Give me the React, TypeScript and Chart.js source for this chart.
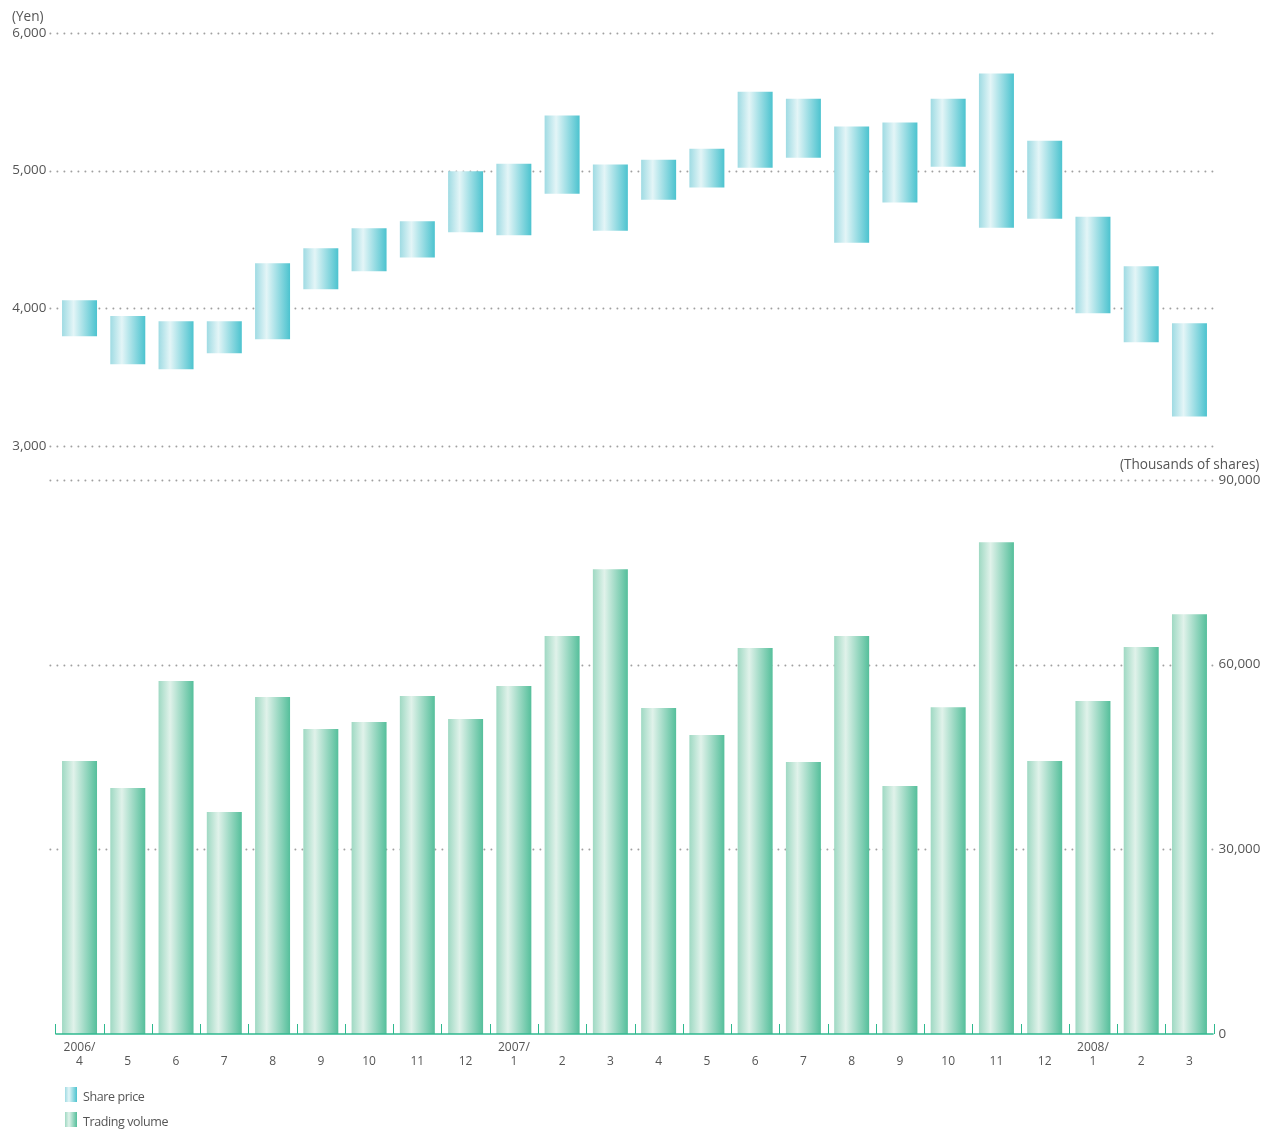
import React, { useEffect, useRef } from "react";
import { Chart, registerables } from "chart.js";

Chart.register(...registerables);

const months = ["4", "5", "6", "7", "8", "9", "10", "11", "12", "1", "2", "3", "4", "5", "6", "7", "8", "9", "10", "11", "12", "1", "2", "3"];
const years = ["2006/", "", "", "", "", "", "", "", "", "2007/", "", "", "", "", "", "", "", "", "", "", "", "2008/", "", ""];

const priceHigh = [4058, 3945, 3906, 3906, 4327, 4436, 4581, 4632, 4995, 5051, 5400, 5044, 5080, 5160, 5574, 5523, 5320, 5349, 5523, 5705, 5218, 4666, 4305, 3891];
const priceLow = [3797, 3593, 3557, 3673, 3775, 4138, 4269, 4370, 4552, 4530, 4833, 4564, 4789, 4877, 5022, 5094, 4477, 4768, 5029, 4586, 4651, 3964, 3753, 3215];
const volume = [44340, 39950, 57330, 36050, 54730, 49530, 50670, 54890, 51160, 56520, 64640, 75520, 52940, 48560, 62690, 44170, 64640, 40280, 53100, 79900, 44340, 54080, 62850, 68210];

const priceTicks = [3000, 4000, 5000, 6000];
const volumeTicks = [0, 30000, 60000, 90000];

const labels = months.map((m, i) => [years[i], m]);

const FONT = "'Open Sans', 'DejaVu Sans', sans-serif";
const TEXT = "#555555";
const BAR_PCT = 0.725;

const PRICE_STOPS: [number, string][] = [[0, "#9fdbe3"], [0.33, "#e3f5f7"], [1, "#4cc3cf"]];
const VOL_STOPS: [number, string][] = [[0, "#9fd9c3"], [0.33, "#e0f2ea"], [1, "#55bf9b"]];

function barGradient(stops: [number, string][]) {
  return (ctx: any) => {
    const chart = ctx.chart;
    const xs = chart.scales && chart.scales.x;
    if (!chart.chartArea || !xs) return stops[1][1];
    const c = xs.getPixelForValue(ctx.dataIndex);
    const w = (xs.width / labels.length) * BAR_PCT;
    const g = chart.ctx.createLinearGradient(c - w / 2, 0, c + w / 2, 0);
    stops.forEach(([o, col]) => g.addColorStop(o, col));
    return g;
  };
}

const dottedGrid = (axisId: string, values: number[]) => ({
  id: "dottedGrid",
  beforeDatasetsDraw(chart: any) {
    const ctx = chart.ctx;
    const s = chart.scales[axisId];
    const x0 = chart.chartArea.left - 5;
    const x1 = chart.chartArea.right + 2;
    ctx.save();
    ctx.strokeStyle = "#a0a0a0";
    ctx.lineWidth = 2;
    ctx.lineCap = "round";
    ctx.setLineDash([0, 7]);
    values.forEach((v) => {
      const y = Math.round(s.getPixelForValue(v)) + 0.5;
      ctx.beginPath();
      ctx.moveTo(x0, y);
      ctx.lineTo(x1, y);
      ctx.stroke();
    });
    ctx.restore();
  },
});

const xAxisLine = {
  id: "xAxisLine",
  afterDatasetsDraw(chart: any) {
    const ctx = chart.ctx;
    const xs = chart.scales.x;
    const ys = chart.scales.y;
    const y = ys.getPixelForValue(0);
    const step = xs.width / labels.length;
    ctx.save();
    ctx.strokeStyle = "#2fb98f";
    ctx.lineWidth = 1.5;
    ctx.beginPath();
    ctx.moveTo(xs.left, y);
    ctx.lineTo(xs.right, y);
    ctx.stroke();
    ctx.lineWidth = 1;
    for (let i = 0; i <= labels.length; i++) {
      const x = Math.round(xs.getPixelForValue(0) - step / 2 + i * step) + 0.5;
      ctx.beginPath();
      ctx.moveTo(x, y);
      ctx.lineTo(x, y - 10);
      ctx.stroke();
    }
    ctx.restore();
  },
};

export default function App() {
  const topRef = useRef<HTMLCanvasElement>(null);
  const botRef = useRef<HTMLCanvasElement>(null);

  useEffect(() => {
    Chart.defaults.font.family = FONT;
    const top = new Chart(topRef.current!, {
      type: "bar",
      data: {
        labels,
        datasets: [
          {
            label: "Share price",
            data: priceLow.map((l, i) => [l, priceHigh[i]]),
            backgroundColor: barGradient(PRICE_STOPS),
            borderWidth: 0,
            barPercentage: BAR_PCT,
            categoryPercentage: 1,
          },
        ],
      },
      options: {
        animation: false,
        responsive: false,
        layout: { padding: { top: 33, bottom: 24, left: 0, right: 57.4 } },
        plugins: { legend: { display: false }, tooltip: { enabled: false } },
        scales: {
          x: { type: "category", display: false },
          y: {
            type: "linear",
            position: "left",
            min: 3000,
            max: 6000,
            afterFit: (s: any) => { s.width = 55.4; },
            afterBuildTicks: (s: any) => { s.ticks = priceTicks.map((v) => ({ value: v })); },
            grid: { display: false, drawTicks: false },
            border: { display: false },
            ticks: {
              padding: 9,
              color: TEXT,
              font: { size: 13.4, family: FONT },
              callback: (v: any) => Number(v).toLocaleString("en-US"),
            },
          },
        },
      },
      plugins: [dottedGrid("y", priceTicks)],
    });

    const bot = new Chart(botRef.current!, {
      type: "bar",
      data: {
        labels,
        datasets: [
          {
            label: "Trading volume",
            data: volume,
            backgroundColor: barGradient(VOL_STOPS),
            borderWidth: 0,
            barPercentage: BAR_PCT,
            categoryPercentage: 1,
          },
        ],
      },
      options: {
        animation: false,
        responsive: false,
        layout: { padding: { top: 40, bottom: 0, left: 55.4, right: 0 } },
        plugins: { legend: { display: false }, tooltip: { enabled: false } },
        scales: {
          x: {
            type: "category",
            afterFit: (s: any) => { s.height = 97; },
            grid: { display: false, drawTicks: false },
            border: { display: false },
            ticks: {
              padding: 6,
              color: TEXT,
              autoSkip: false,
              maxRotation: 0,
              font: { size: 12, family: FONT, lineHeight: 1.2 },
            },
          },
          y: {
            type: "linear",
            position: "right",
            min: 0,
            max: 90000,
            afterFit: (s: any) => { s.width = 57.4; },
            afterBuildTicks: (s: any) => { s.ticks = volumeTicks.map((v) => ({ value: v })); },
            grid: { display: false, drawTicks: false },
            border: { display: false },
            ticks: {
              padding: 5,
              color: TEXT,
              font: { size: 13.4, family: FONT },
              callback: (v: any) => Number(v).toLocaleString("en-US"),
            },
          },
        },
      },
      plugins: [dottedGrid("y", volumeTicks.filter((v) => v > 0)), xAxisLine],
    });

    return () => {
      top.destroy();
      bot.destroy();
    };
  }, []);

  const textStyle: React.CSSProperties = {
    position: "absolute",
    fontFamily: FONT,
    color: TEXT,
    fontSize: 13.6,
    lineHeight: "16px",
    whiteSpace: "nowrap",
  };
  const swatch = (stops: [number, string][]): React.CSSProperties => ({
    position: "absolute",
    width: 12,
    height: 15,
    background: `linear-gradient(to right, ${stops.map(([o, c]) => `${c} ${o * 100}%`).join(", ")})`,
  });

  return (
    <div style={{ position: "absolute", left: 0, top: 0, width: 1271, height: 1131, background: "#fff", overflow: "hidden" }}>
      <canvas ref={topRef} width={1271} height={470} style={{ position: "absolute", left: 0, top: 0 }} />
      <canvas ref={botRef} width={1271} height={691} style={{ position: "absolute", left: 0, top: 440 }} />
      <div style={{ ...textStyle, left: 12, top: 8 }}>(Yen)</div>
      <div style={{ ...textStyle, left: 1120, top: 456 }}>(Thousands of shares)</div>
      <div style={{ ...swatch(PRICE_STOPS), left: 65, top: 1087 }} />
      <div style={{ ...textStyle, left: 83, top: 1089, fontSize: 12.5, letterSpacing: -0.4 }}>Share price</div>
      <div style={{ ...swatch(VOL_STOPS), left: 65, top: 1112 }} />
      <div style={{ ...textStyle, left: 83, top: 1114, fontSize: 12.5, letterSpacing: -0.4 }}>Trading volume</div>
    </div>
  );
}
